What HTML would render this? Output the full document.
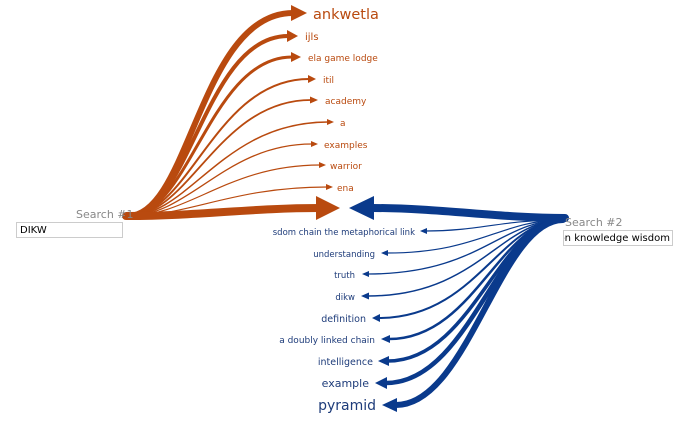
<!DOCTYPE html>
<html><head><meta charset="utf-8"><style>
html,body{margin:0;padding:0;background:#fff;}
body{width:689px;height:426px;overflow:hidden;position:relative;font-family:"Liberation Sans","DejaVu Sans",sans-serif;}
.lbl{position:absolute;color:#888;font-size:11px;font-family:"DejaVu Sans",sans-serif;}
.inp{position:absolute;border:1px solid #ccc;background:#fff;font-size:10px;color:#000;height:16px;line-height:15px;padding-left:3px;overflow:hidden;white-space:nowrap;box-sizing:border-box;font-family:"DejaVu Sans",sans-serif;}
svg{position:absolute;left:0;top:0;}
</style></head><body>
<svg width="689" height="426" viewBox="0 0 689 426" font-family="DejaVu Sans, Liberation Sans, sans-serif">
<g fill="none" stroke="#b94a0f" stroke-linecap="round">
<path d="M128,216 C190,216 200,13 293,13" stroke-width="6"/>
<path d="M128,216 C190,216 205,36 288,36" stroke-width="4"/>
<path d="M128,216 C190,216 210,57 292,57" stroke-width="3"/>
<path d="M128,216 C190,216 215,79 309,79" stroke-width="2"/>
<path d="M128,216 C190,216 218,100 311,100" stroke-width="1.8"/>
<path d="M128,216 C190,216 222,122 328,122" stroke-width="1.5"/>
<path d="M128,216 C190,216 225,144 312,144" stroke-width="1.3"/>
<path d="M128,216 C190,216 228,165 320,165" stroke-width="1.2"/>
<path d="M128,216 C190,216 232,187 327,187" stroke-width="1.2"/>
<path d="M126,216 C200,216 250,208 320,208" stroke-width="8"/>
</g>
<g fill="#b94a0f">
<polygon points="307,13 291,5 291,21"/>
<polygon points="298,36 287,30 287,42"/>
<polygon points="301,57 291,52 291,62"/>
<polygon points="316,79 308,75 308,83"/>
<polygon points="318,100 310,96.5 310,103.5"/>
<polygon points="334,122 327,119 327,125"/>
<polygon points="318,144 311,141 311,147"/>
<polygon points="326,165 319,162 319,168"/>
<polygon points="333,187 326,184 326,190"/>
<polygon points="340,208 316,196 316,220"/>
</g>
<g fill="#b94a0f" font-size="9">
<text x="313" y="19" font-size="14.5">ankwetla</text>
<text x="305" y="40" font-size="10">ijls</text>
<text x="308" y="61">ela game lodge</text>
<text x="323" y="83">itil</text>
<text x="325" y="104">academy</text>
<text x="340" y="126">a</text>
<text x="324" y="148">examples</text>
<text x="330" y="169">warrior</text>
<text x="337" y="191">ena</text>
</g>
<g fill="none" stroke="#0a3a8c" stroke-linecap="round">
<path d="M563,220 C500,220 480,231 426,231" stroke-width="1.2"/>
<path d="M563,220 C500,220 480,253 387,253" stroke-width="1.2"/>
<path d="M563,220 C500,220 480,274 368,274" stroke-width="1.3"/>
<path d="M563,220 C500,220 478,296 368,296" stroke-width="1.5"/>
<path d="M563,220 C500,220 476,318 379,318" stroke-width="2"/>
<path d="M563,220 C500,220 474,339 389,339" stroke-width="2.5"/>
<path d="M563,220 C500,220 472,361 388,361" stroke-width="3.5"/>
<path d="M563,220 C500,220 470,383 386,383" stroke-width="4.5"/>
<path d="M563,220 C500,220 468,405 396,405" stroke-width="6"/>
<path d="M565,218 C500,218 440,208 372,208" stroke-width="8"/>
</g>
<g fill="#0a3a8c">
<polygon points="420,231 427,228 427,234"/>
<polygon points="381,253 388,250 388,256"/>
<polygon points="362,274 369,271 369,277"/>
<polygon points="361,296 369,292.5 369,299.5"/>
<polygon points="372,318 380,314 380,322"/>
<polygon points="381,339 390,335 390,343"/>
<polygon points="378,361 389,356 389,366"/>
<polygon points="375,383 387,377 387,389"/>
<polygon points="382,405 397,398 397,412"/>
<polygon points="349,208 374,196 374,220"/>
</g>
<g fill="#1e3c7a" font-size="8.5" text-anchor="end">
<text x="415" y="235">sdom chain the metaphorical link</text>
<text x="375" y="257">understanding</text>
<text x="355" y="278">truth</text>
<text x="355" y="300">dikw</text>
<text x="366" y="322" font-size="9.5">definition</text>
<text x="375" y="343" font-size="9">a doubly linked chain</text>
<text x="373" y="365" font-size="9.5">intelligence</text>
<text x="369" y="387" font-size="11">example</text>
<text x="376" y="410" font-size="14">pyramid</text>
</g>
</svg>
<div class="lbl" style="left:76px;top:208px;">Search #1</div>
<div class="inp" style="left:16px;top:222px;width:107px;">DIKW</div>
<div class="lbl" style="left:565px;top:216px;">Search #2</div>
<div class="inp" style="left:563px;top:230px;width:110px;padding-left:0;"><span style="margin-left:-28px">mation knowledge wisdom</span></div>
</body></html>
